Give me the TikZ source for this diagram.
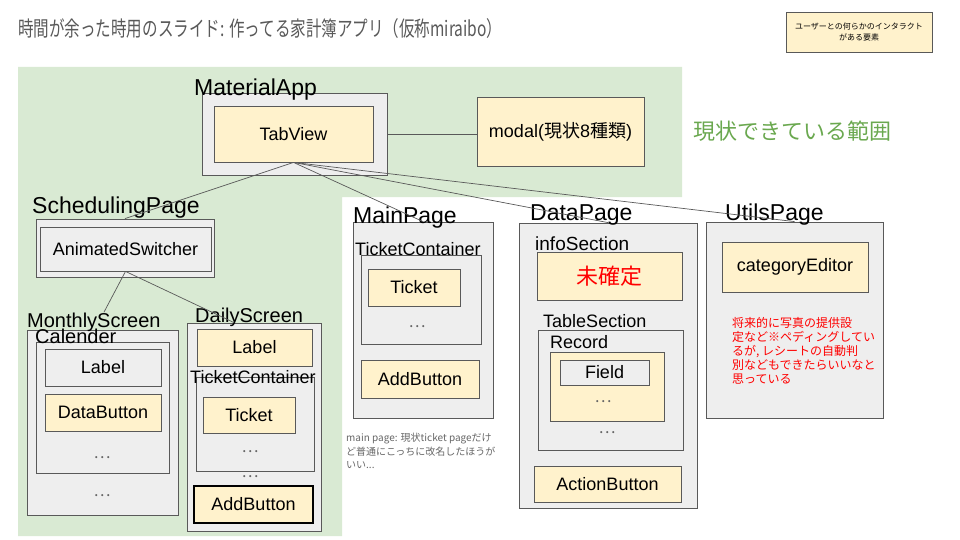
\documentclass[tikz,border=0pt]{standalone}
\usepackage{fontspec}
\setmainfont{Liberation Sans}
\newfontfamily\jp{Noto Sans CJK JP}
\newfontfamily\jpnarrow[FakeStretch=0.74]{Noto Sans CJK JP}
\usetikzlibrary{positioning,calc}

\definecolor{greenarea}{HTML}{D9EAD3}
\definecolor{boxgrey}{HTML}{EEEEEE}
\definecolor{boxyellow}{HTML}{FFF2CC}
\definecolor{boxline}{HTML}{595959}
\definecolor{notegrey}{HTML}{666666}
\definecolor{scopegreen}{HTML}{6AA84F}
\definecolor{notered}{HTML}{FF0000}

\tikzset{
  boxsize/.style 2 args={minimum width=#1, minimum height=#2},
  greybox/.style={draw=boxline, fill=boxgrey, line width=0.8pt, inner sep=0pt,
    font=\fontsize{18}{21}\selectfont},
  yellowbox/.style={draw=boxline, fill=boxyellow, line width=0.8pt, inner sep=0pt,
    font=\fontsize{18}{21}\selectfont},
  pagelabel/.style={anchor=base west, inner sep=0pt, font=\fontsize{23}{26}\selectfont},
  sublabel/.style={anchor=base west, inner sep=0pt, font=\fontsize{#1}{22}\selectfont},
  sublabel/.default=20,
  dots/.style={inner sep=0pt, text=notegrey, font=\jp\fontsize{16}{18}\selectfont},
  link/.style={draw=boxline, line width=0.7pt},
}

\begin{document}
\begin{tikzpicture}[x=1pt,y=-1pt]
\useasboundingbox (0,0) rectangle (960,540);

% area already built
\fill[greenarea] (18,67) -- (682,67) -- (682,197) -- (342,197) -- (342,536)
  -- (18,536) -- cycle;

\node[anchor=base west, inner sep=0pt, text=boxline,
  font=\jpnarrow\fontsize{21}{24}\selectfont] (title) at (18,37)
  {時間が余った時用のスライド: 作ってる家計簿アプリ（仮称miraibo）};

\node[yellowbox, boxsize={146}{40}, align=center,
  font=\jp\fontsize{8}{11}\selectfont] (legend) at (859,32)
  {ユーザーとの何らかのインタラクト\\がある要素};

\node[anchor=west, inner sep=0pt, text=scopegreen,
  font=\jp\fontsize{22}{25}\selectfont] (scopenote) at (693,131) {現状できている範囲};

% MaterialApp
\node[greybox, boxsize={185}{82}] (materialapp) at (294.5,134) {};
\node[yellowbox, boxsize={159}{56}] (tabview) at (293.5,134) {TabView};
\node[pagelabel] (materialapplbl) at (194,96) {MaterialApp};
\node[yellowbox, boxsize={167}{69}] (modal) at (560.5,131.5)
  {modal({\jp 現状}8{\jp 種類})};

% SchedulingPage
\node[greybox, boxsize={178}{58}] (sched) at (125,248) {};
\node[greybox, boxsize={171}{44}] (animsw) at (125.5,249) {AnimatedSwitcher};
\node[pagelabel] (schedlbl) at (32,213) {SchedulingPage};

\node[greybox, boxsize={151}{185}] (monthly) at (102.5,422.5) {};
\node[sublabel] (monthlylbl) at (27,327) {MonthlyScreen};
\node[greybox, boxsize={133}{131}] (calender) at (102.5,407.5) {};
\node[sublabel] (calenderlbl) at (35,343) {Calender};
\node[greybox, boxsize={116}{37}] (monthlabel) at (103,367.5) {Label};
\node[yellowbox, boxsize={116}{37}] (databutton) at (103,412.5) {DataButton};
\node[dots] (calenderdots) at (102,458) {…};
\node[dots] (monthlydots) at (102,496) {…};

\node[greybox, boxsize={134}{208}] (daily) at (254,427) {};
\node[sublabel] (dailylbl) at (195,322) {DailyScreen};
\node[yellowbox, boxsize={115}{37}] (dailylabel) at (254.5,347.5) {Label};
\node[greybox, boxsize={118}{94}] (dailytc) at (255,424) {};
\node[sublabel=18] (dailytclbl) at (190,383) {TicketContainer};
\node[yellowbox, boxsize={92}{36}] (dailyticket) at (249,415) {Ticket};
\node[dots] (dailytcdots) at (250,452) {…};
\node[dots] (dailydots) at (250,477) {…};
\node[yellowbox, boxsize={119}{37}, draw=black, line width=1.2pt] (dailyadd)
  at (253.5,504.5) {AddButton};

% MainPage
\node[greybox, boxsize={140}{196}] (mainpage) at (423,320) {};
\node[pagelabel] (mainpagelbl) at (353,223) {MainPage};
\node[greybox, boxsize={120}{89}] (maintc) at (421,299.5) {};
\node[sublabel=18] (maintclbl) at (355,255) {TicketContainer};
\node[yellowbox, boxsize={92}{37}] (mainticket) at (414,287.5) {Ticket};
\node[dots] (maintcdots) at (417,327) {…};
\node[yellowbox, boxsize={118}{38}] (mainadd) at (420,379) {AddButton};
\node[anchor=north west, inner sep=0pt, align=left, text=notegrey,
  font=\jp\fontsize{10}{13.5}\selectfont] (mainnote) at (346,433)
  {main page: 現状ticket pageだけ\\ど普通にこっちに改名したほうが\\いい...};

% DataPage
\node[greybox, boxsize={178}{285}] (datapage) at (608,365.5) {};
\node[pagelabel] (datapagelbl) at (530,220) {DataPage};
\node[sublabel=19] (infolbl) at (535,250) {infoSection};
\node[yellowbox, boxsize={145}{48}, text=notered,
  font=\jp\fontsize{22}{25}\selectfont] (info) at (609.5,276) {未確定};
\node[sublabel=18] (tablelbl) at (543,327) {TableSection};
\node[greybox, boxsize={145}{120}] (tablesec) at (610.5,390) {};
\node[sublabel=18] (recordlbl) at (550,348) {Record};
\node[yellowbox, boxsize={114}{69}] (record) at (607,386.5) {};
\node[greybox, boxsize={89}{25}] (field) at (604.5,372.5) {Field};
\node[dots] (recorddots) at (603,402) {…};
\node[dots] (tabledots) at (607,433) {…};
\node[yellowbox, boxsize={147}{36}] (actionbtn) at (607.5,484) {ActionButton};

% UtilsPage
\node[greybox, boxsize={177}{196}] (utilspage) at (794.5,320) {};
\node[pagelabel] (utilspagelbl) at (725,220) {UtilsPage};
\node[yellowbox, boxsize={146}{50}] (cateditor) at (795,267) {categoryEditor};
\node[anchor=north west, inner sep=0pt, align=left, text=notered,
  font=\jp\fontsize{12}{14}\selectfont] (utilsnote) at (732,317)
  {将来的に写真の提供設\\定など※ペディングしてい\\るが, レシートの自動判\\別などもできたらいいなと\\思っている};

% connectors
\draw[link] (materialapp.east) -- (materialapp.east -| modal.west);
\foreach \target in {sched,mainpage,datapage,utilspage}
  \draw[link] (tabview.south) -- (\target.north);
\draw[link] (animsw.south) -- ([xshift=10pt]monthlylbl.north);
\draw[link] (animsw.south) -- ([xshift=-20pt]daily.north);

\end{tikzpicture}
\end{document}
